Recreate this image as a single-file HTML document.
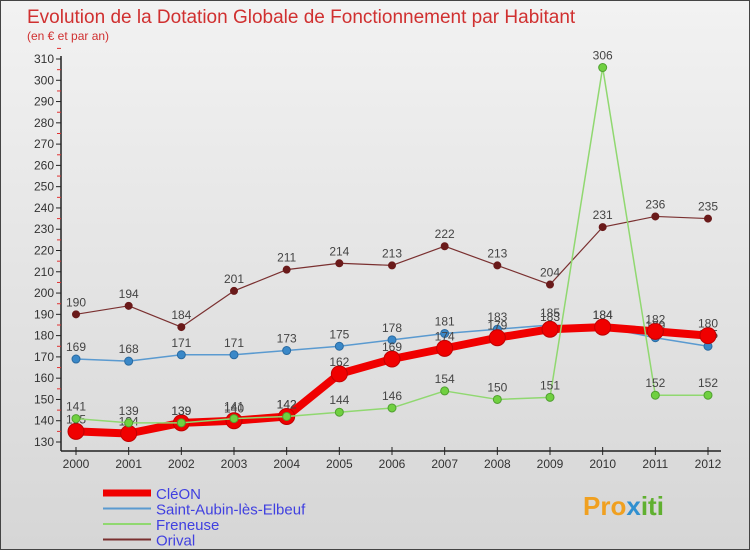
<!DOCTYPE html>
<html><head><meta charset="utf-8"><style>
body{margin:0}
#c{position:relative;width:750px;height:550px;overflow:hidden;font-family:"Liberation Sans",sans-serif;background:linear-gradient(#f2f2f2,#d6d6d6);box-sizing:border-box;border:1px solid #444}
</style></head><body>
<div id="c">
<svg id="s" width="750" height="550" style="position:absolute;left:0;top:0">
<text x="26" y="22" font-size="19" fill="#d03030">Evolution de la Dotation Globale de Fonctionnement par Habitant</text>
<text x="26" y="39" font-size="12" fill="#d03030">(en € et par an)</text>
<g id="axes"></g><g id="series"></g><g id="legend"></g>
<text x="582" y="514" font-size="26" font-weight="bold" fill="#f0a020">Pro<tspan fill="#3090d0">x</tspan><tspan fill="#60b030">iti</tspan></text>
</svg>
</div>
<script>
const years=[2000,2001,2002,2003,2004,2005,2006,2007,2008,2009,2010,2011,2012];
const yTicks=[130,140,150,160,170,180,190,200,210,220,230,240,250,260,270,280,290,300,310];
const cleon=[135,134,139,140,142,162,169,174,179,183,184,182,180];
const saintAubin=[169,168,171,171,173,175,178,181,183,185,184,179,175];
const freneuse=[141,139,139,141,142,144,146,154,150,151,306,152,152];
const orival=[190,194,184,201,211,214,213,222,213,204,231,236,235];
const NS="http://www.w3.org/2000/svg";
function X(i){return 75+i*(707-75)/(years.length-1);}
function Y(v){return 441-(v-130)*(441-58)/180;}
function mk(tag,attrs,parent){const e=document.createElementNS(NS,tag);for(const k in attrs)e.setAttribute(k,attrs[k]);parent.appendChild(e);return e;}
const ax=document.getElementById('axes');
let a=mk('line',{x1:60,y1:55,x2:60,y2:450,stroke:'#222','stroke-width':1.5},ax);


a=mk('line',{x1:60,y1:450,x2:720,y2:450,stroke:'#222','stroke-width':1.5},ax);


yTicks.forEach(v=>{const y=Y(v);
 mk('line',{x1:55,y1:y,x2:60,y2:y,stroke:'#222'},ax);
 mk('line',{x1:56,y1:y-10.6,x2:60,y2:y-10.6,stroke:'#e03030'},ax);
 const t=mk('text',{x:53,y:y+4,'font-size':12,'text-anchor':'end',fill:'#333'},ax);t.textContent=v;
 
 });
years.forEach((yr,i)=>{const x=X(i);
 mk('line',{x1:x,y1:446,x2:x,y2:454,stroke:'#222'},ax);
 const t=mk('text',{x:x,y:467,'font-size':12,'text-anchor':'middle',fill:'#333'},ax);t.textContent=yr;
 
 });
const sg=document.getElementById('series');
function series(data,name,color,dot,lw,r,stroke){
 const g=mk('g',{},sg);
 
 
 mk('polyline',{points:data.map((v,i)=>X(i)+','+Y(v)).join(' '),fill:'none',stroke:color,'stroke-width':lw,'stroke-linejoin':'round'},g);
 data.forEach((v,i)=>{const c=mk('circle',{cx:X(i),cy:Y(v),r:r,fill:dot,stroke:stroke,'stroke-width':1},g);
  
  
  const t=mk('text',{x:X(i),y:Y(v)-8,'font-size':12,'text-anchor':'middle',fill:'#444'},g);t.textContent=v;
  
  });
}
series(orival,'orival','#7a3030','#6a1a1a',1.2,3.5,'#6a1a1a');
series(saintAubin,'saint-aubin','#5a9ad0','#3a88c8',1.5,4,'#2a6aa0');
series(cleon,'cleon','#f00000','#f00000',8,8,'#c00000');
series(freneuse,'freneuse','#90d870','#70d040',1.5,4,'#50a030');
const lg=document.getElementById('legend');
const legItems=[['CléON','#f00000',7],['Saint-Aubin-lès-Elbeuf','#5a9ad0',2],['Freneuse','#90d870',2],['Orival','#7a3030',2]];
legItems.forEach((it,k)=>{const y=492+k*15.5;
 const l=mk('line',{x1:102,y1:y,x2:150,y2:y,stroke:it[1],'stroke-width':it[2]},lg);
 
 
 const t=mk('text',{x:155,y:y+6,'font-size':15,fill:'#4040e0'},lg);t.textContent=it[0];
 
 });
</script>
</body></html>
